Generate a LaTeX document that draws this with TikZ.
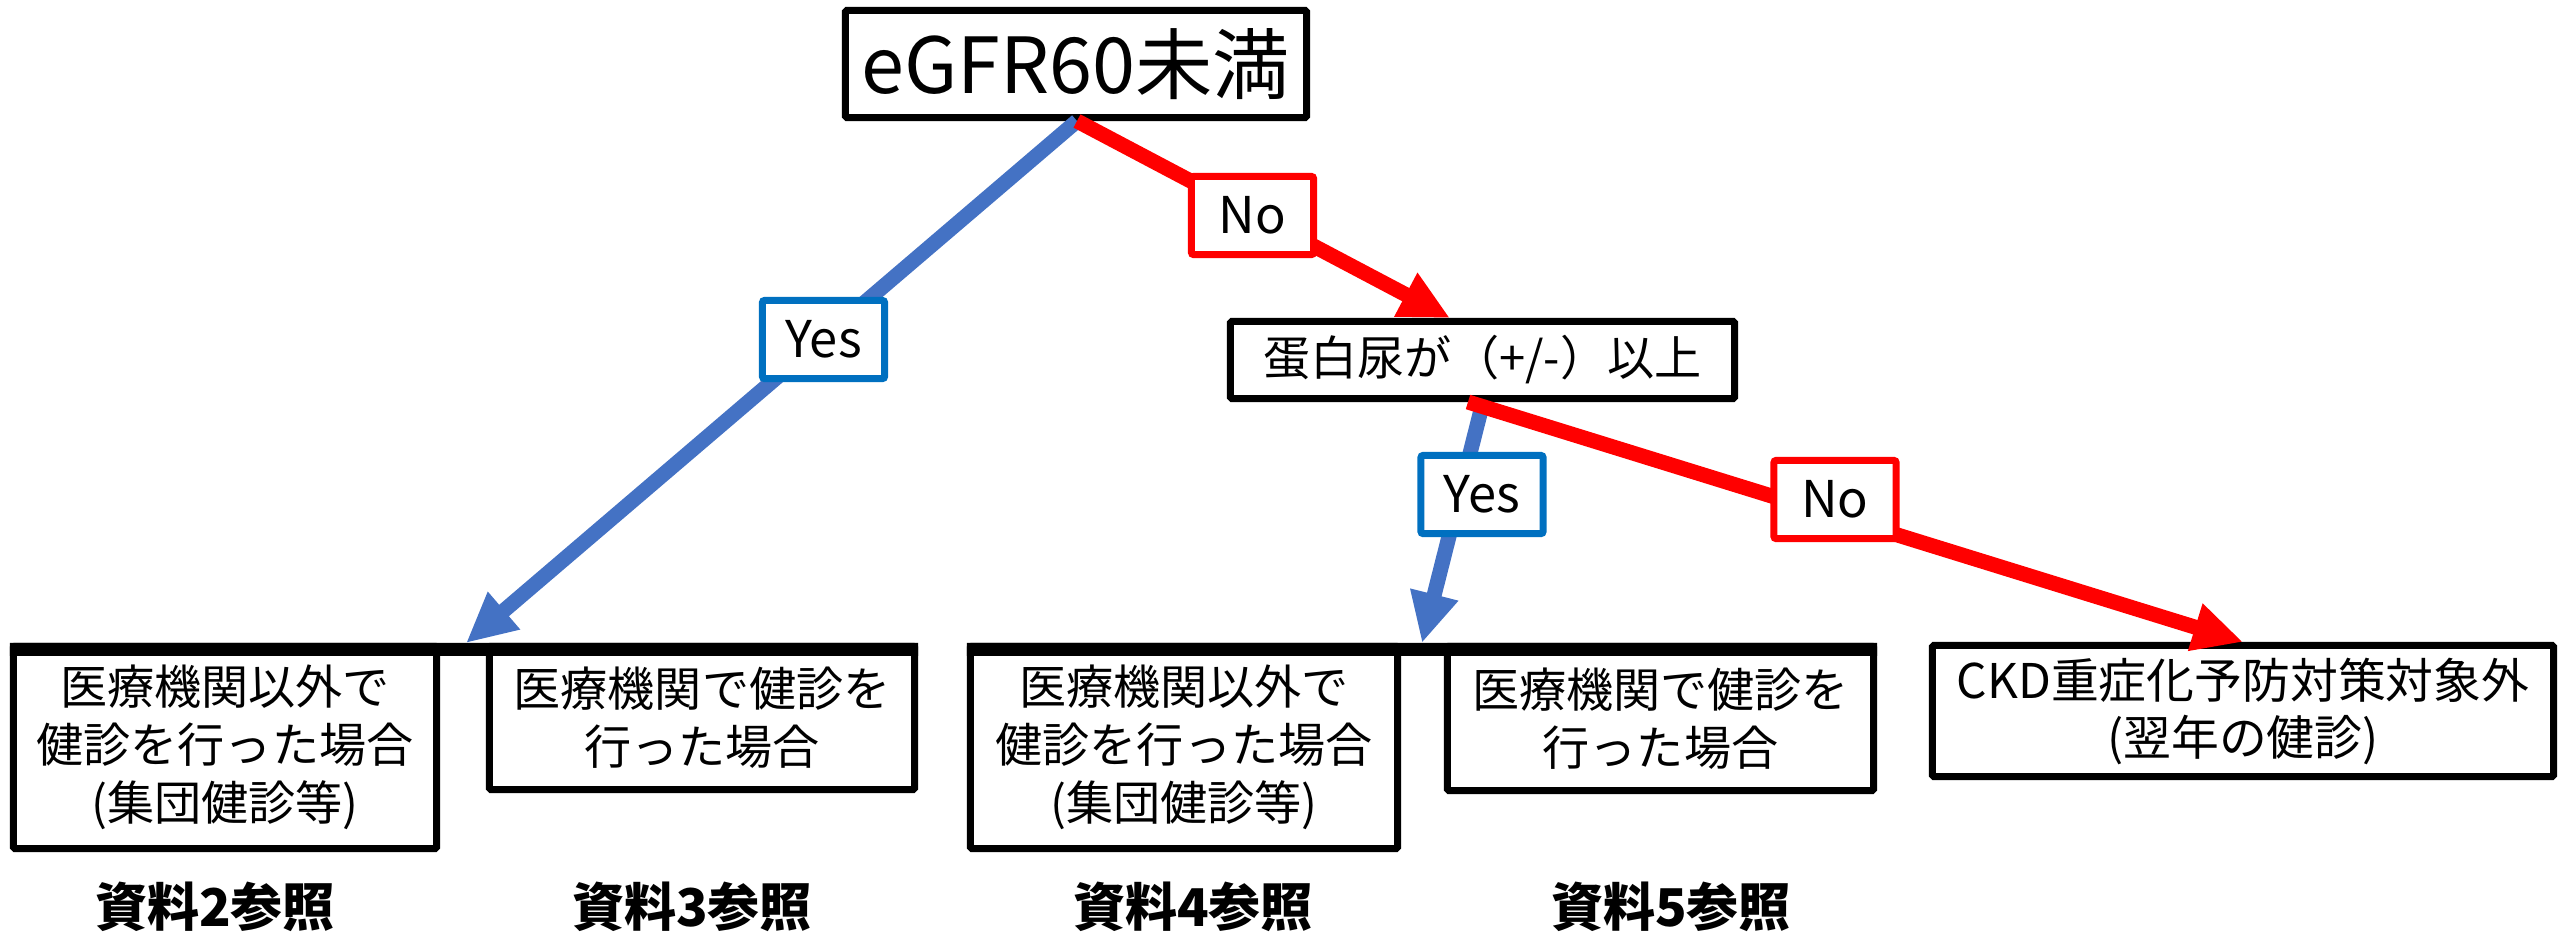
\documentclass[tikz,border=0pt]{standalone}
\usepackage{fontspec}
\setmainfont{Noto Sans CJK JP}
\usetikzlibrary{arrows.meta}
\definecolor{lineblue}{HTML}{4472C4}
\definecolor{boxblue}{HTML}{0070C0}
\definecolor{pred}{HTML}{FF0000}
\begin{document}
\begin{tikzpicture}[x=0.01cm,y=-0.01cm,
  box/.style={draw=black,line width=0.07cm,fill=white,inner sep=0pt,align=center,
    rounded corners=0.015cm,font=\fontsize{13.4pt}{16.5pt}\selectfont},
  lbl/.style={line width=0.07cm,fill=white,inner sep=0pt,minimum width=1.22cm,
    minimum height=0.78cm,rounded corners=0.02cm,font=\fontsize{14.4pt}{16pt}\selectfont},
  yeslbl/.style={lbl,draw=boxblue},
  nolbl/.style={lbl,draw=pred},
  yesarrow/.style={draw=lineblue,line width=0.15cm,-{Triangle[length=0.5cm,width=0.46cm]}},
  noarrow/.style={draw=pred,line width=0.15cm,-{Triangle[length=0.5cm,width=0.46cm]}},
  topbar/.style={draw=black,line width=0.13cm},
  refnote/.style={font=\bfseries\fontsize{14.8pt}{17pt}\selectfont}
]
\useasboundingbox (0,0) rectangle (2560,932);

% boxes
\node[box,minimum width=4.61cm,minimum height=1.07cm,font=\fontsize{22pt}{25pt}\selectfont]
  (top) at (1076,64) {eGFR60未満};
\node[box,minimum width=5.04cm,minimum height=0.77cm] (prot) at (1482.5,360) {蛋白尿が（+/-）以上};
\node[box,minimum width=4.23cm,minimum height=2.02cm] (b1) at (225,747.5)
  {医療機関以外で\\健診を行った場合\\(集団健診等)};
\node[box,minimum width=4.25cm,minimum height=1.43cm] (b2) at (702,718)
  {医療機関で健診を\\行った場合};
\node[box,minimum width=4.27cm,minimum height=2.02cm] (b3) at (1184,747.5)
  {医療機関以外で\\健診を行った場合\\(集団健診等)};
\node[box,minimum width=4.26cm,minimum height=1.44cm] (b4) at (1660.5,718.5)
  {医療機関で健診を\\行った場合};
\node[box,minimum width=6.21cm,minimum height=1.31cm,font=\fontsize{13.6pt}{16.2pt}\selectfont]
  (ckd) at (2243,711) {CKD重症化予防対策対象外\\(翌年の健診)};

% thick bars over the paired boxes
\draw[topbar] ([yshift=-0.065cm]b1.north west) -- ([yshift=-0.065cm]b2.north east);
\draw[topbar] ([yshift=-0.065cm]b3.north west) -- ([yshift=-0.065cm]b4.north east);

% arrow end points
\coordinate (s1) at (1077,121);
\coordinate (t1) at (466,643);
\coordinate (t2) at (1450,318);
\coordinate (s3) at (1483,402);
\coordinate (t3) at (1422,643);
\coordinate (s4) at (1468,402);

% connectors
\draw[yesarrow] (s1) -- (t1);
\draw[noarrow] (s1) -- (t2);
\draw[yesarrow] (s3) -- (t3);
\draw[noarrow] (s4) -- (ckd.north);

% labels
\node[yeslbl] (yes1) at (823.5,339.5) {Yes};
\node[nolbl] (no1) at (1252.5,215.5) {No};
\node[yeslbl] (yes2) at (1482,494.5) {Yes};
\node[nolbl] (no2) at (1835,499.5) {No};

% reference notes
\node[refnote] (r2) at (215,907) {資料2参照};
\node[refnote] (r3) at (692,907) {資料3参照};
\node[refnote] (r4) at (1193,907) {資料4参照};
\node[refnote] (r5) at (1671,907) {資料5参照};
\end{tikzpicture}
\end{document}
